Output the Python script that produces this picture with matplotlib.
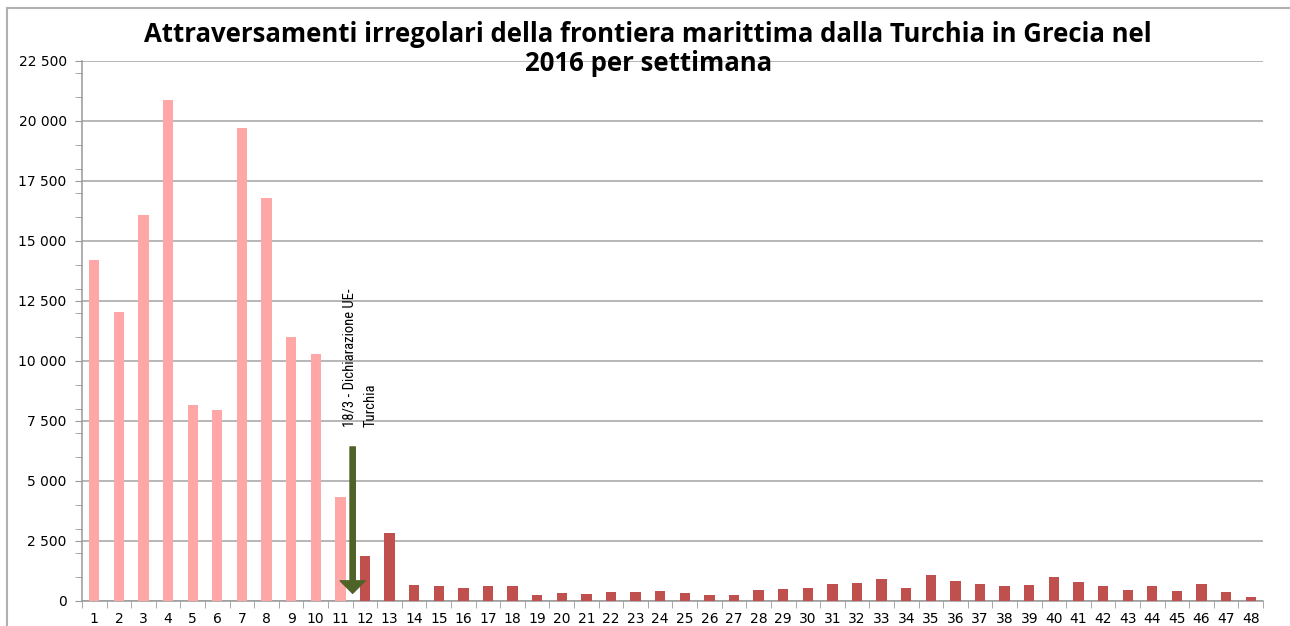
import matplotlib
matplotlib.use('Agg')
import matplotlib.pyplot as plt
from matplotlib.patches import Rectangle, FancyArrowPatch
from matplotlib.ticker import FuncFormatter, MultipleLocator

# settimane e attraversamenti
settimane = list(range(1, 49))
valori = [14200, 12050, 16080, 20880, 8170, 7960, 19700, 16800, 11000, 10290,
          4330, 1880, 2830, 667, 625, 556, 625, 611, 250, 319,
          306, 375, 361, 417, 333, 250, 264, 458, 500, 542,
          708, 764, 917, 542, 1083, 833, 694, 625, 681, 986,
          778, 625, 444, 625, 431, 694, 361, 153]
prima = 11  # settimane prima della dichiarazione UE-Turchia
col_prima = '#FFA7A7'
col_dopo = '#C0504D'

titolo = 'Attraversamenti irregolari della frontiera marittima dalla Turchia in Grecia nel\n2016 per settimana'
nota = '18/3 - Dichiarazione UE-\nTurchia'

fig = plt.figure(figsize=(12.9, 6.26), dpi=100)
ax = fig.add_axes([82/1290, 25/626, (1263-82)/1290, 540/626])

colori = [col_prima if s <= prima else col_dopo for s in settimane]
ax.bar(settimane, valori, width=0.42, color=colori, zorder=3)

ax.set_xlim(0.5, 48.5)
ax.set_ylim(0, 22500)
ax.yaxis.set_major_locator(MultipleLocator(2500))
ax.yaxis.set_minor_locator(MultipleLocator(1000))
ax.yaxis.set_major_formatter(FuncFormatter(lambda v, p: f'{int(v):,}'.replace(',', ' ')))
ax.set_xticks(settimane)
ax.set_xticks([s + 0.5 for s in range(0, 49)], minor=True)
ax.tick_params(axis='x', which='major', length=0, labelsize=10, pad=8)
ax.tick_params(axis='x', which='minor', length=5, color='#999999')
ax.tick_params(axis='y', which='both', length=5, color='#999999', labelsize=10, pad=6)
ax.grid(axis='y', color='#a3a3a3', linewidth=1.1, zorder=0)
for s in ['top', 'right']:
    ax.spines[s].set_visible(False)
for s in ['left', 'bottom']:
    ax.spines[s].set_color('#999999')
    ax.spines[s].set_linewidth(1.1)

# freccia dichiarazione
freccia = FancyArrowPatch((prima + 0.5, 6420), (prima + 0.5, 320),
                          arrowstyle='simple,head_width=1.8,head_length=0.9,tail_width=0.38',
                          mutation_scale=10, color='#4F6228', shrinkA=0, shrinkB=0, zorder=4)
ax.add_patch(freccia)
ax.text(prima + 0.8, 7250, nota, rotation=90, ha='center', va='bottom',
        multialignment='left', fontsize=10.5, linespacing=1.7,
        family=['Roboto Condensed', 'Liberation Sans Narrow', 'Roboto', 'DejaVu Sans'],
        fontstretch='condensed', zorder=5)

fig.text(0.5025, 1 - 49/626, titolo, ha='center', va='center', fontsize=18.5,
         fontweight='bold', linespacing=1.1, family=['Open Sans', 'DejaVu Sans'])

# cornice esterna
fig.patches.append(Rectangle((7/1290, -0.1), 1.2, 1 - 8/626 + 0.1, transform=fig.transFigure,
                             fill=False, edgecolor='#b0b0b0', linewidth=1.5))

fig.savefig('out.png', dpi=100)
